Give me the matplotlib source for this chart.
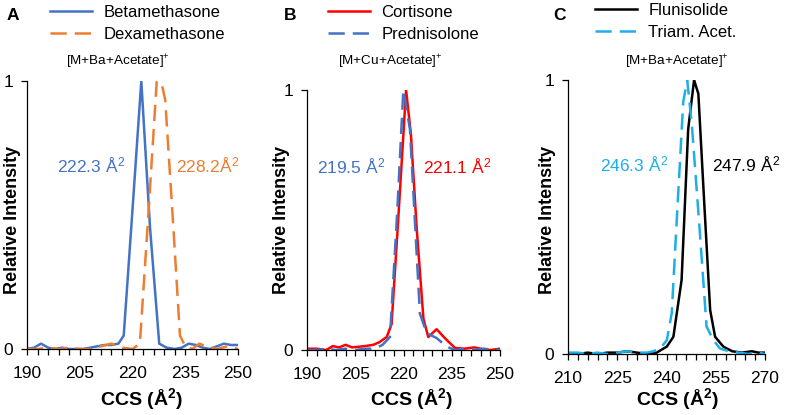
import matplotlib
matplotlib.use('Agg')
import matplotlib.pyplot as plt
import numpy as np

plt.rcParams['font.family'] = ['Liberation Sans', 'DejaVu Sans']
plt.rcParams['mathtext.default'] = 'regular'

# Panel A - [M+Ba+Acetate]+
beta_x = [190, 192, 194, 196, 198, 200, 202, 204, 206, 208, 210, 212, 214, 216, 217.5,
          220, 222.5, 225, 227.6, 229.7, 232, 234, 236, 238, 240, 242, 244, 246, 248, 250]
beta_y = [0.0, 0.005, 0.02, 0.005, 0.0, 0.005, 0.0, 0.0, 0.0, 0.005, 0.01, 0.015, 0.015, 0.02, 0.05,
          0.52, 1.0, 0.45, 0.02, 0.005, 0.0, 0.005, 0.02, 0.015, 0.005, 0.0, 0.01, 0.02, 0.015, 0.015]
dexa_x = [190, 193, 196, 199, 202, 205, 208, 211, 214, 217, 220, 222.1, 224.5, 226.9, 228.3,
          229.3, 231.4, 233.5, 235, 237, 239, 241, 244, 247, 250]
dexa_y = [0.0, 0.0, 0.005, 0.0, 0.005, 0.0, 0.0, 0.01, 0.02, 0.005, 0.0, 0.02, 0.5, 1.0, 0.99,
          0.93, 0.5, 0.05, 0.01, 0.0, 0.02, 0.01, 0.0, 0.01, 0.0]

# Panel B - [M+Cu+Acetate]+
cort_x = [190, 193, 196, 198, 200, 202, 204, 206.5, 208, 210.6, 212.5, 214.8, 216.3, 218.2, 220.8,
          222.3, 224.2, 226.2, 227.7, 230.3, 232.9, 236, 239, 242, 244, 247, 250]
cort_y = [0.005, 0.005, 0.0, 0.015, 0.01, 0.02, 0.01, 0.013, 0.015, 0.02, 0.03, 0.05, 0.1, 0.47, 1.0,
          0.83, 0.45, 0.12, 0.05, 0.08, 0.045, 0.008, 0.005, 0.01, 0.005, 0.0, 0.005]
pred_x = [190, 193, 196, 199, 202, 205, 208, 211, 213.5, 215.8, 218, 219.95, 222, 225.1, 227.2,
          230.3, 233.4, 236, 239, 242, 245, 248, 250]
pred_y = [0.0, 0.0, 0.005, 0.0, 0.005, 0.0, 0.005, 0.005, 0.02, 0.05, 0.52, 1.0, 0.85, 0.14, 0.065,
          0.046, 0.013, 0.0, 0.005, 0.0, 0.005, 0.0, 0.0]

# Panel C - [M+Ba+Acetate]+
flun_x = [210, 213, 216, 219, 222, 225, 228, 231, 234, 237, 240.1, 242.1, 244.6, 246.6, 248.4,
          249.7, 251.5, 253.3, 254.8, 257.3, 260, 263, 266, 268, 270]
flun_y = [0.0, 0.0, 0.005, 0.0, 0.005, 0.005, 0.01, 0.005, 0.0, 0.005, 0.027, 0.063, 0.27, 0.82, 1.0,
          0.95, 0.55, 0.16, 0.063, 0.027, 0.01, 0.005, 0.01, 0.005, 0.005]
tria_x = [210, 213, 216, 219, 222, 225, 228, 231, 234, 236, 238, 240.1, 241.6, 243.4, 245.1,
          246.3, 247.7, 250, 252.2, 254.3, 256.3, 259, 262, 265, 268, 270]
tria_y = [0.005, 0.005, 0.0, 0.005, 0.0, 0.005, 0.01, 0.005, 0.005, 0.01, 0.02, 0.05, 0.15, 0.55, 0.92,
          1.0, 0.84, 0.47, 0.1, 0.05, 0.02, 0.01, 0.005, 0.0, 0.005, 0.0]

W, H = 787, 415
fig = plt.figure(figsize=(W / 100, H / 100), dpi=100)


def px_axes(left, right, top, bottom):
    return fig.add_axes([left / W, 1 - bottom / H, (right - left) / W, (bottom - top) / H])


dash = (6.5, 3.2)
lw = 1.8

panels = [
    dict(box=(27, 238, 81, 349), xlim=(190, 250), letter='A', lx=13, tx=118,
         title='[M+Ba+Acetate]$^{+}$', ylab_x=13, xlab_x=141, leg_x=50, leg_y=5,
         solid=(beta_x, beta_y, '#4472C4', 'Betamethasone'),
         dashed=(dexa_x, dexa_y, '#ED7D31', 'Dexamethasone'),
         ann=[(217.9, 0.685, '222.3 Å$^2$', '#4472C4', 'right'),
              (232.4, 0.685, '228.2Å$^2$', '#ED7D31', 'left')]),
    dict(box=(307, 500, 90, 350), xlim=(190, 250), letter='B', lx=290, tx=390,
         title='[M+Cu+Acetate]$^{+}$', ylab_x=282, xlab_x=411, leg_x=328, leg_y=5,
         solid=(cort_x, cort_y, '#FF0000', 'Cortisone'),
         dashed=(pred_x, pred_y, '#4472C4', 'Prednisolone'),
         ann=[(214.2, 0.705, '219.5 Å$^2$', '#4472C4', 'right'),
              (226.1, 0.705, '221.1 Å$^2$', '#FF0000', 'left')]),
    dict(box=(568, 765, 80, 354), xlim=(210, 270), letter='C', lx=560, tx=677,
         title='[M+Ba+Acetate]$^{+}$', ylab_x=547, xlab_x=677, leg_x=595, leg_y=3,
         solid=(flun_x, flun_y, '#000000', 'Flunisolide'),
         dashed=(tria_x, tria_y, '#1EAEE8', 'Triam. Acet.'),
         ann=[(240.5, 0.69, '246.3 Å$^2$', '#1EAEE8', 'right'),
              (253.9, 0.69, '247.9 Å$^2$', '#000000', 'left')]),
]

for p in panels:
    ax = px_axes(*p['box'])
    sx, sy, sc, sl = p['solid']
    dx, dy, dc, dl = p['dashed']
    ax.plot(sx, sy, color=sc, lw=lw, label=sl)
    ax.plot(dx, dy, color=dc, lw=lw, dashes=dash, label=dl)
    x0, x1 = p['xlim']
    ax.set_xlim(x0, x1)
    ax.set_ylim(0, 1)
    for s in ['top', 'right']:
        ax.spines[s].set_visible(False)
    for s in ['left', 'bottom']:
        ax.spines[s].set_linewidth(0.9)
    ax.set_xticks(np.arange(x0, x1 + 1, 15))
    ax.set_xticks(np.arange(x0, x1 + 1, 3), minor=True)
    ax.set_yticks([0, 1])
    ax.set_yticklabels(['0', '1'])
    ax.tick_params(axis='both', which='both', direction='out', width=0.9, labelsize=12.5)
    ax.tick_params(axis='x', which='major', length=4, pad=8)
    ax.tick_params(axis='x', which='minor', length=4)
    ax.tick_params(axis='y', length=4, pad=6)

    for x, y, txt, c, ha in p['ann']:
        ax.text(x, y, txt, color=c, ha=ha, va='center', fontsize=12.5)

    fig.text(p['lx'] / W, 1 - 16 / H, p['letter'], fontsize=12.5, fontweight='bold',
             ha='center', va='center')
    fig.text(p['tx'] / W, 1 - 62 / H, p['title'], fontsize=9.7, ha='center', va='center')
    fig.text(p['ylab_x'] / W, 1 - 220 / H, 'Relative Intensity', fontsize=13,
             fontweight='bold', rotation=90, ha='center', va='center')
    fig.text(p['xlab_x'] / W, 1 - 399 / H, 'CCS (Å$^2$)', fontsize=14,
             fontweight='bold', ha='center', va='center')
    ax.legend(loc='upper left', bbox_to_anchor=(p['leg_x'] / W, 1 - p['leg_y'] / H),
              bbox_transform=fig.transFigure, frameon=False, fontsize=12,
              handlelength=2.5, handletextpad=0.7, labelspacing=0.4,
              borderpad=0, borderaxespad=0)

fig.savefig('out.png', dpi=100)
